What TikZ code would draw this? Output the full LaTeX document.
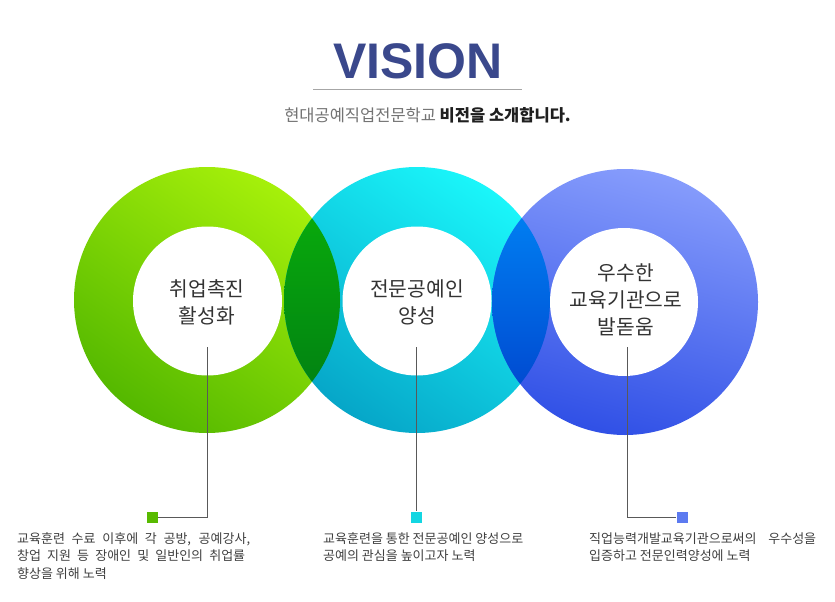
\documentclass[tikz,border=0pt]{standalone}
\usepackage{fontspec}
\setmainfont{Liberation Sans}
\newfontfamily\kr{Noto Sans CJK KR}
\definecolor{titleblue}{RGB}{58,72,140}
\definecolor{gTop}{RGB}{166,240,10}
\definecolor{gBot}{RGB}{84,184,0}
\definecolor{cTop}{RGB}{26,246,250}
\definecolor{cBot}{RGB}{6,166,200}
\definecolor{bTop}{RGB}{134,156,252}
\definecolor{bBot}{RGB}{48,80,230}
\definecolor{gcTop}{RGB}{10,180,10}
\definecolor{gcBot}{RGB}{0,120,20}
\definecolor{cbTop}{RGB}{0,140,250}
\definecolor{cbBot}{RGB}{0,60,200}
\definecolor{gSq}{RGB}{88,186,0}
\definecolor{cSq}{RGB}{20,214,226}
\definecolor{bSq}{RGB}{92,122,240}
\definecolor{txt}{RGB}{64,64,64}
\begin{document}
\begin{tikzpicture}[x=1pt,y=-1pt,
  circtext/.style={font=\kr\fontsize{20.3}{27}\selectfont, text=black!80, align=center, inner sep=0pt},
  desc/.style={font=\kr\fontsize{13}{17.3}\selectfont, text=txt, align=left, inner sep=0pt, anchor=north west},
  marker/.style={minimum size=11pt, inner sep=0pt},
  link/.style={draw=black!65, line width=0.8pt}]
\useasboundingbox[fill=white] (0,0) rectangle (835,602);

\coordinate (gc) at (207,300);
\coordinate (cc) at (417,300);
\coordinate (bc) at (625,302);

% rings
\shade[top color=gTop, bottom color=gBot, shading angle=-35] (gc) circle (133pt);
\shade[top color=cTop, bottom color=cBot, shading angle=-35] (cc) circle (133pt);
\shade[top color=bTop, bottom color=bBot, shading angle=-15] (bc) circle (133pt);

% overlaps
\begin{scope}
  \clip (gc) circle (133pt);
  \shade[top color=gcTop, bottom color=gcBot] (cc) circle (133pt);
\end{scope}
\begin{scope}
  \clip (cc) circle (133pt);
  \shade[top color=cbTop, bottom color=cbBot] (bc) circle (133pt);
\end{scope}

% inner white discs
\fill[white] (207.5,301) circle (74.5pt);
\fill[white] (417,301) circle (74.5pt);
\fill[white] (624,302) circle (74pt);

% title
\node[anchor=base, font=\fontsize{50}{50}\selectfont\bfseries, text=titleblue, inner sep=0pt] (title) at (418,78) {VISION};
\draw[black!35, line width=0.8pt] (313,89) -- (522,89);
\node[anchor=base, font=\kr\fontsize{16.5}{18}\selectfont, inner sep=0pt] (sub) at (427.5,121)
  {\textcolor{black!55}{현대공예직업전문학교} \textcolor{black!88}{\bfseries 비전을 소개합니다.}};

% circle labels
\node[circtext] (gt) at (207,302) {취업촉진\\활성화};
\node[circtext] (ct) at (417,302) {전문공예인\\양성};
\node[circtext] (bt) at (626,300) {우수한\\교육기관으로\\발돋움};

% connectors
\coordinate (gtop) at (207,347);
\coordinate (ctop) at (416.5,347);
\coordinate (btop) at (627,347);
\node[marker, fill=gSq] (gsq) at (152,517) {};
\node[marker, fill=cSq] (csq) at (416.5,517) {};
\node[marker, fill=bSq] (bsq) at (682,517) {};
\draw[link] (gtop) |- (gsq.east);
\draw[link] (ctop) -- (csq.north);
\draw[link] (btop) |- (bsq.west);

% descriptions
\node[desc] (gd) at (17,532.5)
  {\makebox[233pt][s]{교육훈련 수료 이후에 각 공방, 공예강사,}\\
   \makebox[228pt][s]{창업 지원 등 장애인 및 일반인의 취업률}\\
   향상을 위해 노력};
\node[desc] (cd) at (323,532.5)
  {교육훈련을 통한 전문공예인 양성으로\\
   공예의 관심을 높이고자 노력};
\node[desc] (bd) at (589,532.5)
  {\makebox[227pt][s]{직업능력개발교육기관으로써의 우수성을}\\
   입증하고 전문인력양성에 노력};
\end{tikzpicture}
\end{document}
